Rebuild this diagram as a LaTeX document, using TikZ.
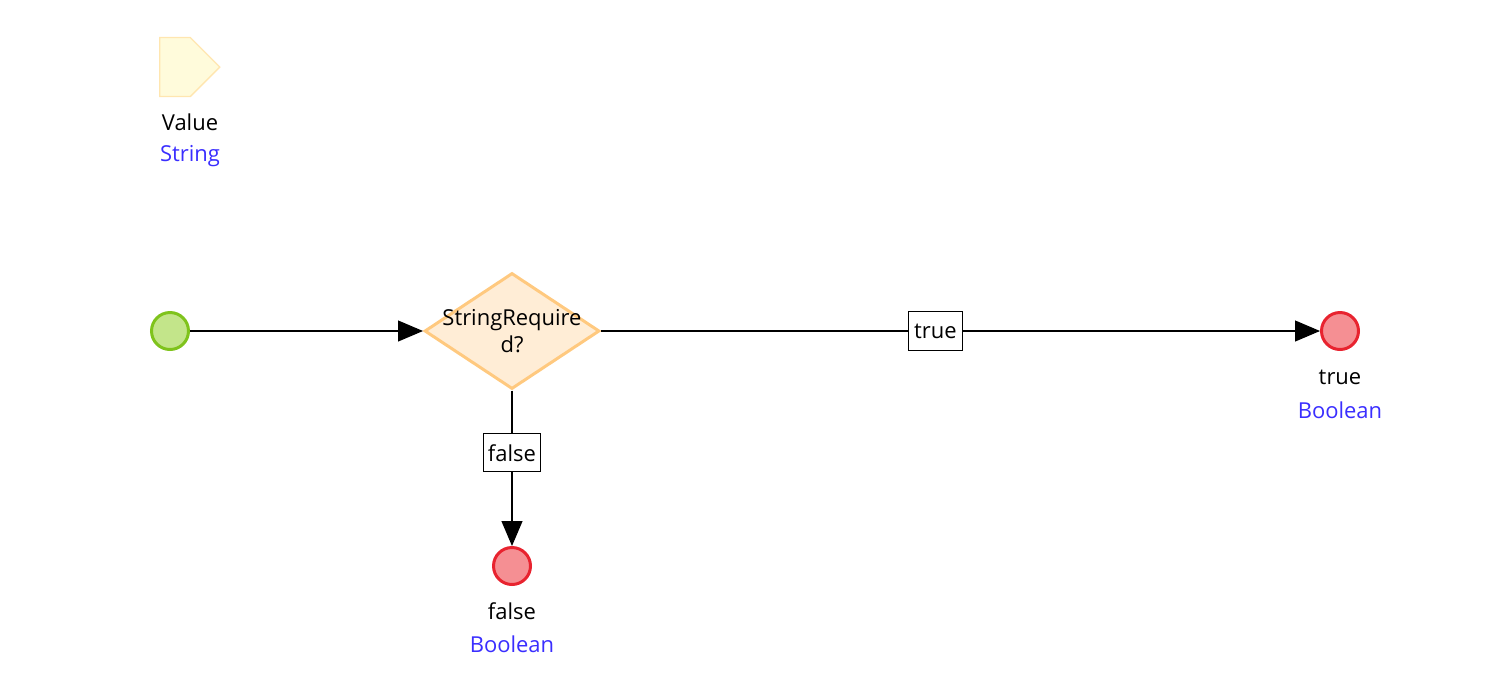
\documentclass[tikz,border=0pt]{standalone}
\usepackage{fontspec}
\setmainfont{Open Sans}
\usetikzlibrary{shapes.geometric,shapes.symbols,arrows.meta,positioning}
\definecolor{startfill}{HTML}{C3E58A}
\definecolor{startdraw}{HTML}{7FC31C}
\definecolor{endfill}{HTML}{F58F93}
\definecolor{enddraw}{HTML}{E8232F}
\definecolor{decfill}{HTML}{FFEDD6}
\definecolor{decdraw}{HTML}{FFC97F}
\definecolor{parfill}{HTML}{FFFBDB}
\definecolor{pardraw}{HTML}{FFE6B0}
\definecolor{typeblue}{HTML}{3A2EFF}
\tikzstyle{startev} = [circle, draw=startdraw, fill=startfill, line width=1.7pt, inner sep=0pt, minimum size=0.74cm]
\tikzstyle{endev} = [circle, draw=enddraw, fill=endfill, line width=1.7pt, inner sep=0pt, minimum size=0.74cm]
\tikzstyle{decision} = [diamond, draw=decdraw, fill=decfill, line width=1.7pt, inner sep=0pt, minimum width=3.5cm, minimum height=2.32cm]
\tikzstyle{param} = [signal, signal to=east, signal pointer angle=90, draw=pardraw, fill=parfill, line width=0.8pt, inner sep=0pt, minimum width=1.2cm, minimum height=1.18cm]
\tikzstyle{cond} = [rectangle, draw, fill=white, line width=0.6pt, inner xsep=0.09cm, inner ysep=0pt, minimum width=1.08cm, minimum height=0.77cm]
\tikzstyle{txt} = [inner sep=0pt, font=\fontsize{12.5pt}{15.5pt}\selectfont]
\tikzstyle{line} = [draw, line width=0.6pt, -{Triangle[length=0.5cm,width=0.42cm]}]

\begin{document}
\begin{tikzpicture}[every node/.style={txt}]
		\useasboundingbox (0,0) rectangle (30.18,-13.76);
		% Input parameter
		\node[param] (value) at (3.5,-1.34) {};
		\node[below of = value, node distance = 1.1cm, xshift=0.3cm] (valuename) {Value};
		\node[below of = valuename, node distance = 0.68cm, text=typeblue] (valuetype) {String};
		
		% Main row
		\node[startev] (start) at (3.4,-6.62) {};
		\node[decision, right of = start, node distance = 6.84cm] (dec) {};
		\node[align=center] at (dec.center) (dectext) {StringRequire\\d?};
		\node[endev, right of = dec, node distance = 16.56cm] (endtrue) {};
		\node[below of = endtrue, node distance = 0.92cm] (truename) {true};
		\node[below of = truename, node distance = 0.66cm, text=typeblue] (truetype) {Boolean};
		
		% False branch
		\node[endev, below of = dec, node distance = 4.7cm] (endfalse) {};
		\node[below of = endfalse, node distance = 0.9cm] (falsename) {false};
		\node[below of = falsename, node distance = 0.66cm, text=typeblue] (falsetype) {Boolean};
		
		% Paths
		\path [line] (start) -- (dec);
		\path [line] (dec) -- node[cond, pos=0.465]{true} (endtrue);
		\path [line] (dec) -- node[cond, pos=0.4]{false} (endfalse);
		
	\end{tikzpicture}
\end{document}
